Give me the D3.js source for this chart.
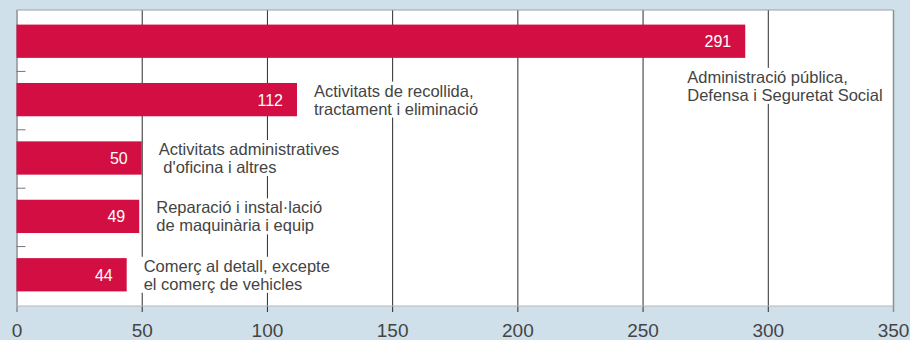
<!DOCTYPE html>
<html>
<head>
<meta charset="utf-8">
<script src="https://cdn.jsdelivr.net/npm/d3@7"></script>
<style>
  body { margin: 0; background: #cfe0eb; }
  text { font-family: "Liberation Sans", Arial, sans-serif; }
</style>
</head>
<body>
<script>
var width = 910
var height = 340

// data
var categories = [
  "Administració pública,\nDefensa i Seguretat Social",
  "Activitats de recollida,\ntractament i eliminació",
  "Activitats administratives\n d'oficina i altres",
  "Reparació i instal·lació\nde maquinària i equip",
  "Comerç al detall, excepte\nel comerç de vehicles"
];
var values = [291, 112, 50, 49, 44];
var tickValues = [0, 50, 100, 150, 200, 250, 300, 350];

var plotTop = 10, plotBottom = 306, plotLeft = 16.5, plotRight = 893;

var svg = d3.select("body").append("svg")
    .attr("width", width)
    .attr("height", height)

// scales
var x = d3.scaleLinear()
    .domain([0, 350])
    .range([plotLeft, plotRight])

var y = d3.scaleBand()
    .domain(categories)
    .range([plotTop, plotBottom])
    .paddingInner(0.43)
    .paddingOuter(0.25)

// white plot area
svg.append("rect")
    .attr("x", plotLeft)
    .attr("y", plotTop)
    .attr("width", plotRight - plotLeft)
    .attr("height", plotBottom - plotTop)
    .attr("fill", "#fff")

// bottom axis, ticks run up as gridlines
var xAxis = svg.append("g")
    .attr("transform", "translate(0," + (plotBottom + 6) + ")")
    .call(d3.axisBottom(x)
        .tickValues(tickValues)
        .tickSize(plotBottom + 6 - plotTop)
        .tickPadding(0))

xAxis.select(".domain").remove()
xAxis.selectAll(".tick line")
    .attr("y1", 0)
    .attr("y2", -(plotBottom + 6 - plotTop))
    .attr("stroke", function(d) { return (d == 0 || d == 350) ? "#8a8f94" : "#2b2b2b" })
    .attr("stroke-width", function(d) { return (d == 0 || d == 350) ? 1.5 : 1 })
xAxis.selectAll(".tick text")
    .attr("y", 25)
    .attr("dy", null)
    .attr("fill", "#444")
    .style("font-size", "19px")

// plot border top / bottom
svg.append("line")
    .attr("x1", plotLeft).attr("x2", plotRight)
    .attr("y1", plotTop).attr("y2", plotTop)
    .attr("stroke", "#9aa0a5")
svg.append("line")
    .attr("x1", plotLeft).attr("x2", plotRight)
    .attr("y1", plotBottom).attr("y2", plotBottom)
    .attr("stroke", "#b5b9bc")

// small ticks between the bars on the left
svg.selectAll(".sep")
    .data(categories.slice(1))
    .enter().append("line")
    .attr("class", "sep")
    .attr("x1", plotLeft)
    .attr("x2", plotLeft + 9)
    .attr("y1", function(d) { return y(d) - y.step() * y.paddingInner() / 2 + 1 })
    .attr("y2", function(d) { return y(d) - y.step() * y.paddingInner() / 2 + 1 })
    .attr("stroke", "#777")

// bars
svg.selectAll(".bar")
    .data(categories)
    .enter().append("rect")
    .attr("class", "bar")
    .attr("x", x(0))
    .attr("y", function(d) { return y(d) })
    .attr("width", function(d, i) { return x(values[i]) - x(0) })
    .attr("height", y.bandwidth())
    .attr("fill", "#d30e43")

// value labels
svg.selectAll(".value")
    .data(categories)
    .enter().append("text")
    .attr("class", "value")
    .attr("x", function(d, i) { return x(values[i]) - 14 })
    .attr("y", function(d) { return y(d) + y.bandwidth() / 2 + 6 })
    .attr("text-anchor", "end")
    .attr("fill", "#fff")
    .style("font-size", "16px")
    .text(function(d, i) { return values[i] })

// category labels with white knock-out behind them
var labels = svg.selectAll(".label")
    .data(categories)
    .enter().append("g")
    .attr("class", "label")
    .attr("transform", function(d, i) {
      var cy = y(d) + y.bandwidth() / 2
      if (i == 0) return "translate(" + (x(values[i]) - 58) + "," + (y(d) + y.bandwidth() + 28) + ")"
      return "translate(" + (x(values[i]) + 17) + "," + cy + ")"
    })

var labelText = labels.append("text")
    .attr("fill", "#444")
    .style("font-size", "16.5px")
    .style("white-space", "pre")

labelText.selectAll("tspan")
    .data(function(d) { return d.split("\n") })
    .enter().append("tspan")
    .attr("x", 0)
    .attr("y", function(d, i) { return i == 0 ? -3 : 15 })
    .text(function(d) { return d })

labels.each(function() {
  var g = d3.select(this)
  var bb = g.select("text").node().getBBox()
  g.insert("rect", "text")
    .attr("x", bb.x - 3)
    .attr("y", bb.y)
    .attr("width", bb.width + 6)
    .attr("height", bb.height)
    .attr("fill", "#fff")
})
</script>
</body>
</html>
